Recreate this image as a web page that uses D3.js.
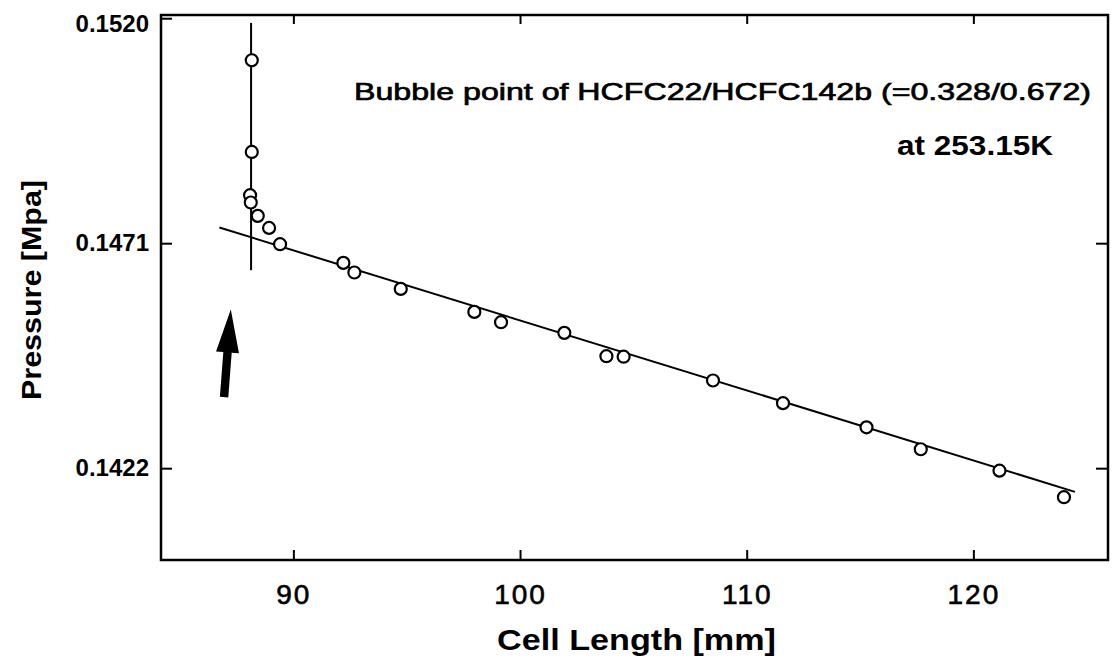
<!DOCTYPE html>
<html>
<head>
<meta charset="utf-8">
<script src="https://cdn.jsdelivr.net/npm/d3@7"></script>
<style>
  html, body { margin: 0; padding: 0; background: #fff; }
  svg { display: block; }
  text { font-family: "Liberation Sans", Arial, Helvetica, sans-serif; fill: #000; }
</style>
</head>
<body>
<svg id="chart" width="1113" height="658"></svg>
<script>
// ---- data ----
const xTicks = [90, 100, 110, 120];
const yTicks = [0.1422, 0.1471, 0.1520];
const cellLength = [88.165, 88.165, 88.09, 88.121, 88.43, 88.928, 89.413, 92.206, 92.691, 94.738,
                    97.984, 99.162, 101.954, 103.811, 104.570, 108.513, 111.601, 115.285, 117.680,
                    121.152, 123.997];
const pressure = [0.151085, 0.149088, 0.148145, 0.147986, 0.147695, 0.147433, 0.147078, 0.146671,
                  0.146462, 0.146105, 0.145604, 0.145380, 0.145147, 0.144639, 0.144628, 0.144110,
                  0.143616, 0.143089, 0.142612, 0.142146, 0.141568];
const fitX = [86.736, 124.481];
const fitY = [0.147442, 0.141684];
const bubbleX = [88.134, 88.134];
const bubbleY = [0.146512, 0.151898];
const arrowX = [86.943, 87.239];
const arrowY = [0.143746, 0.145656];
const xDomain = [84.16, 125.94];
const yDomain = [0.1402, 0.15207];

// ---- layout ----
const L = 161, R = 1108, T = 15, B = 560;
const svg = d3.select("#chart");
const x = d3.scaleLinear().domain(xDomain).range([L, R]);
const y = d3.scaleLinear().domain(yDomain).range([B, T]);

// axes (inward ticks)
const gx = svg.append("g").attr("transform", `translate(0,${B})`)
  .call(d3.axisBottom(x).tickValues(xTicks).tickSizeInner(-10).tickSizeOuter(0).tickPadding(24));
gx.select(".domain").remove();
gx.selectAll(".tick line").attr("stroke", "#000").attr("stroke-width", 2);
gx.selectAll(".tick text").attr("font-size", 28).attr("letter-spacing", 2)
  .attr("stroke", "#000").attr("stroke-width", 0.6)
  .style("font-family", "'Liberation Sans', Arial, sans-serif");

const gxt = svg.append("g").attr("transform", `translate(0,${T})`)
  .call(d3.axisTop(x).tickValues(xTicks).tickSizeInner(-9).tickSizeOuter(0).tickFormat(""));
gxt.select(".domain").remove();
gxt.selectAll(".tick line").attr("stroke", "#000").attr("stroke-width", 2);

const gy = svg.append("g").attr("transform", `translate(${L},0)`)
  .call(d3.axisLeft(y).tickValues(yTicks).tickSizeInner(-11).tickSizeOuter(0).tickPadding(12)
    .tickFormat(d3.format(".4f")));
gy.select(".domain").remove();
gy.selectAll(".tick line").attr("stroke", "#000").attr("stroke-width", 2);
gy.selectAll(".tick text").attr("font-size", 24).attr("font-weight", "bold")
  .attr("dy", d => d === 0.1520 ? "0.55em" : "0.32em");

const gyr = svg.append("g").attr("transform", `translate(${R},0)`)
  .call(d3.axisRight(y).tickValues(yTicks.slice(0, 2)).tickSizeInner(-12).tickSizeOuter(0).tickFormat(""));
gyr.select(".domain").remove();
gyr.selectAll(".tick line").attr("stroke", "#000").attr("stroke-width", 2);

// frame
svg.append("rect").attr("x", L).attr("y", T).attr("width", R - L).attr("height", B - T)
  .attr("fill", "none").attr("stroke", "#000").attr("stroke-width", 2.5);

// axis titles
svg.append("text").attr("x", (L + R) / 2 + 2).attr("y", 650).attr("text-anchor", "middle")
  .attr("font-size", 30).attr("font-weight", "bold")
  .attr("textLength", 279).attr("lengthAdjust", "spacingAndGlyphs")
  .text("Cell Length [mm]");
svg.append("text").attr("transform", "translate(41,290) rotate(-90)").attr("text-anchor", "middle")
  .attr("font-size", 27).attr("font-weight", "bold")
  .attr("textLength", 220).attr("lengthAdjust", "spacingAndGlyphs")
  .text("Pressure [Mpa]");

// vertical bubble-point line
svg.append("line")
  .attr("x1", x(bubbleX[0])).attr("x2", x(bubbleX[1]))
  .attr("y1", y(bubbleY[0])).attr("y2", y(bubbleY[1]))
  .attr("stroke", "#000").attr("stroke-width", 2);

// fitted straight line
svg.append("path")
  .datum(d3.zip(fitX, fitY))
  .attr("d", d3.line().x(d => x(d[0])).y(d => y(d[1])))
  .attr("fill", "none").attr("stroke", "#000").attr("stroke-width", 2);

// data points
svg.append("g").selectAll("circle")
  .data(d3.zip(cellLength, pressure))
  .join("circle")
  .attr("cx", d => x(d[0])).attr("cy", d => y(d[1])).attr("r", 6)
  .attr("fill", "#fff").attr("stroke", "#000").attr("stroke-width", 2.2);

// arrow
(function () {
  const x0 = x(arrowX[0]), y0 = y(arrowY[0]), x1 = x(arrowX[1]), y1 = y(arrowY[1]);
  const dx = x1 - x0, dy = y1 - y0, len = Math.hypot(dx, dy);
  const ux = dx / len, uy = dy / len, nx = -uy, ny = ux;
  const headLen = 43, headHalf = 11.5, shaftHalf = 4.2;
  const bx = x1 - ux * headLen, by = y1 - uy * headLen;
  const pts = [
    [x0 + nx * shaftHalf, y0 + ny * shaftHalf],
    [bx + nx * shaftHalf, by + ny * shaftHalf],
    [bx + nx * headHalf, by + ny * headHalf],
    [x1, y1],
    [bx - nx * headHalf, by - ny * headHalf],
    [bx - nx * shaftHalf, by - ny * shaftHalf],
    [x0 - nx * shaftHalf, y0 - ny * shaftHalf]
  ];
  svg.append("polygon").attr("points", pts.map(p => p.join(",")).join(" ")).attr("fill", "#000");
})();

// annotation
svg.append("text").attr("x", 354).attr("y", 100)
  .attr("font-size", 24.5).attr("stroke", "#000").attr("stroke-width", 0.7)
  .attr("textLength", 737).attr("lengthAdjust", "spacingAndGlyphs")
  .text("Bubble point of HCFC22/HCFC142b (=0.328/0.672)");
svg.append("text").attr("x", 897).attr("y", 155)
  .attr("font-size", 28).attr("font-weight", "bold")
  .attr("textLength", 156).attr("lengthAdjust", "spacingAndGlyphs")
  .text("at 253.15K");
</script>
</body>
</html>
